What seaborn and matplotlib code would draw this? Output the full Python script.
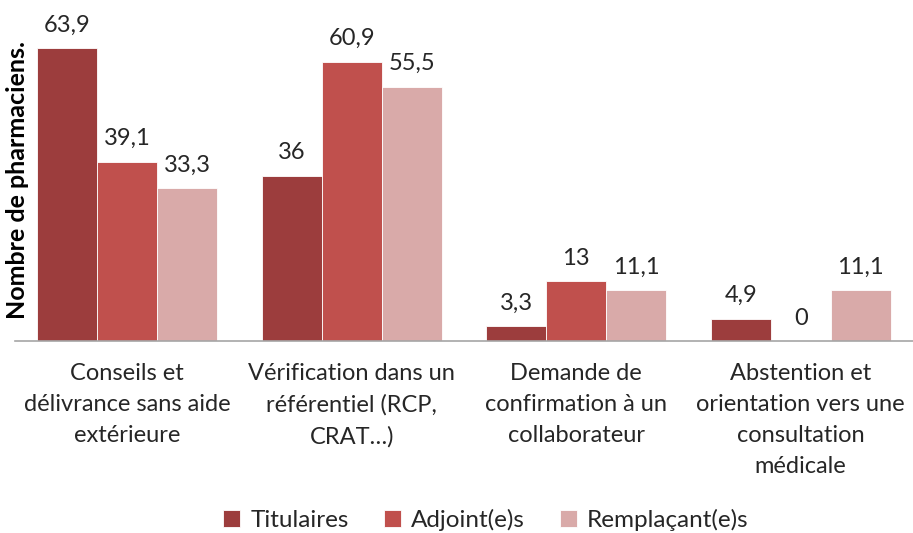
import matplotlib
matplotlib.use('Agg')
import matplotlib.pyplot as plt
import pandas as pd
import seaborn as sns

categories = ["Conseils et\ndélivrance sans aide\nextérieure",
              "Vérification dans un\nréférentiel (RCP,\nCRAT…)",
              "Demande de\nconfirmation à un\ncollaborateur",
              "Abstention et\norientation vers une\nconsultation\nmédicale"]
series = ["Titulaires", "Adjoint(e)s", "Remplaçant(e)s"]
titulaires = [63.9, 36, 3.3, 4.9]
adjoints = [39.1, 60.9, 13, 0]
remplacants = [33.3, 55.5, 11.1, 11.1]
colors = ["#9c3d3d", "#c0504d", "#d9aaa9"]

rows = []
for name, vals in zip(series, [titulaires, adjoints, remplacants]):
    for cat, v in zip(categories, vals):
        rows.append({"cat": cat, "serie": name, "val": v})
df = pd.DataFrame(rows)

sns.set_style("white")
plt.rcParams['font.family'] = ['Lato', 'DejaVu Sans']

fig = plt.figure(figsize=(9.13, 5.33), dpi=100)
ax = fig.add_axes([0.0164, 0.36, 0.9836, 0.6025])

sns.barplot(data=df, x="cat", y="val", hue="serie", palette=colors,
            width=0.8, edgecolor="white", linewidth=0.6, saturation=1, ax=ax)

for cont in ax.containers:
    labels = [f"{v:g}".replace(".", ",") for v in cont.datavalues]
    ax.bar_label(cont, labels=labels, padding=9, fontsize=17, color="#262626")

ax.set_xlim(-0.5, 3.5)
ax.set_ylim(0, 70)
ax.set_yticks([])
ax.set_xlabel("")
ax.set_ylabel("")
ax.tick_params(axis="x", length=0, pad=16)
for t in ax.get_xticklabels():
    t.set_fontsize(17)
    t.set_linespacing(1.58)
    t.set_verticalalignment("top")
    t.set_color("#262626")
for s in ["top", "right", "left"]:
    ax.spines[s].set_visible(False)
ax.spines["bottom"].set_color("#a6a6a6")
ax.spines["bottom"].set_linewidth(1.2)

fig.text(18 / 913, 1 - 180 / 533, "Nombre de pharmaciens.", rotation=90,
         ha="center", va="center", fontsize=18, fontweight="bold", color="black")

handles, labs = ax.get_legend_handles_labels()
ax.legend_.remove()
leg = fig.legend(handles, labs, loc="center", bbox_to_anchor=(0.532, 0.024), ncol=3,
                 frameon=False, fontsize=17.5, handlelength=0.7, handleheight=0.7,
                 handletextpad=0.4, columnspacing=1.45)
for t in leg.get_texts():
    t.set_color("#262626")

fig.savefig("out.png", dpi=100)
